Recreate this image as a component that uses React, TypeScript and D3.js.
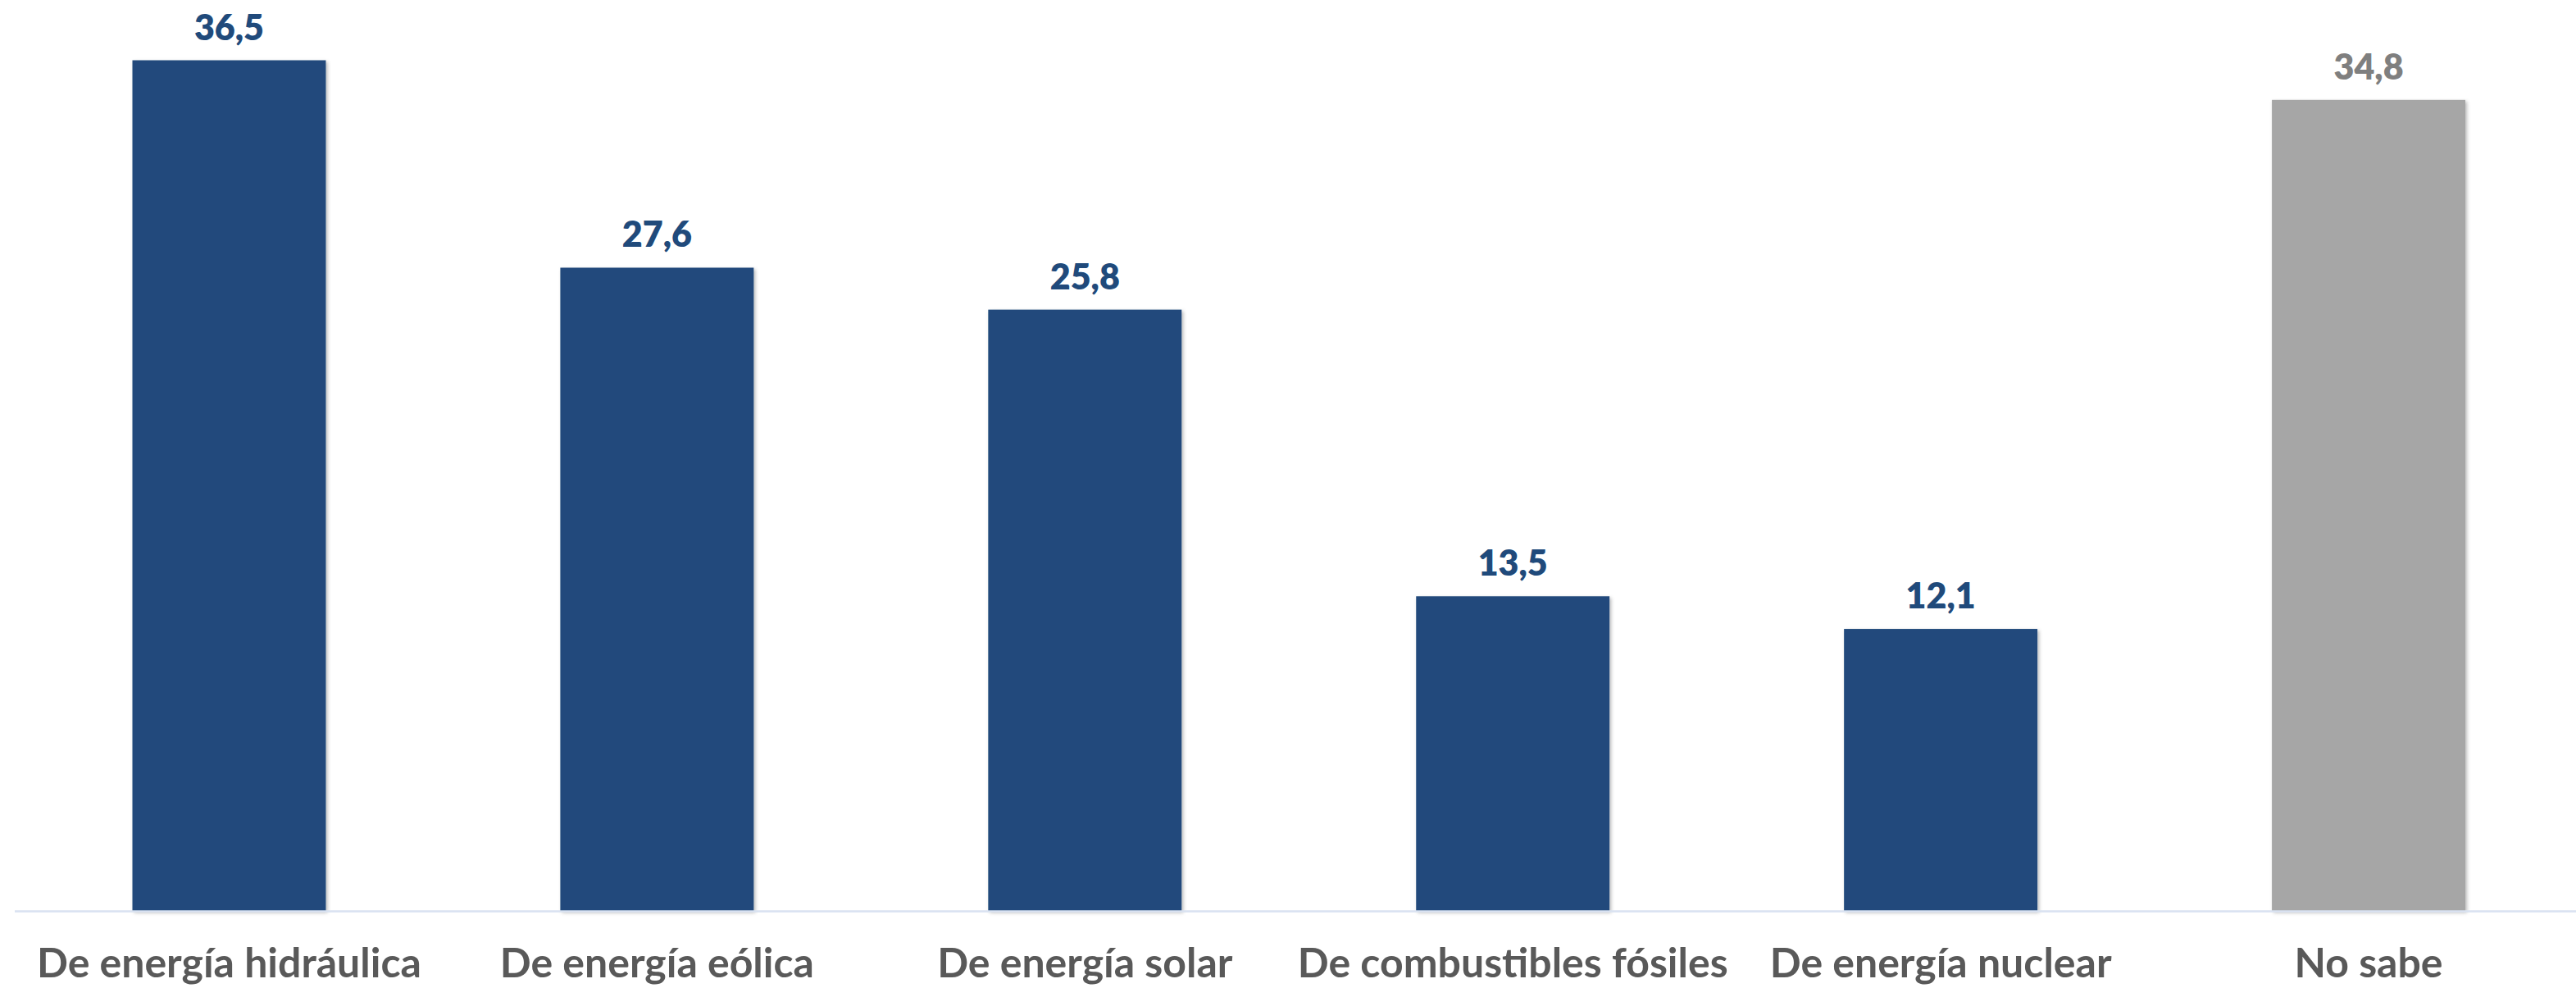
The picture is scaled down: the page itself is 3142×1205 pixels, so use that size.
import React, { useEffect } from "react";
import * as d3 from "d3";

const categories: string[] = [
  "De energía hidráulica",
  "De energía eólica",
  "De energía solar",
  "De combustibles fósiles",
  "De energía nuclear",
  "No sabe",
];
const values: number[] = [36.5, 27.6, 25.8, 13.5, 12.1, 34.8];
const highlight: boolean[] = [false, false, false, false, false, true];

const W = 3142;
const H = 1205;

export default function App() {
  useEffect(() => {
    document.body.style.margin = "0";
  }, []);

  const x = d3
    .scaleBand<string>()
    .domain(categories)
    .range([18.5, 3150])
    .paddingInner(0.548)
    .paddingOuter(0.274);
  const y = d3.scaleLinear().domain([0, 36.5]).range([1111, 73.5]);
  const fmt = (v: number) => d3.format(".1f")(v).replace(".", ",");
  const font = "Lato, 'Open Sans', sans-serif";

  return (
    <svg
      width={W}
      height={H}
      style={{ position: "absolute", left: 0, top: 0, background: "#ffffff" }}
    >
      <defs>
        <filter id="sh" x="-10%" y="-10%" width="120%" height="120%">
          <feDropShadow dx="2" dy="2" stdDeviation="2" floodColor="#000" floodOpacity="0.28" />
        </filter>
      </defs>
      <rect x={0} y={0} width={W} height={H} fill="#ffffff" />
      {categories.map((c, i) => (
        <rect
          key={c}
          x={x(c)}
          y={y(values[i])}
          width={x.bandwidth()}
          height={y(0) - y(values[i])}
          fill={highlight[i] ? "#a6a6a6" : "#204a7b"}
          filter="url(#sh)"
        />
      ))}
      <line x1={18} x2={W} y1={y(0) + 0.5} y2={y(0) + 0.5} stroke="#d9e2f1" strokeWidth={2.5} />
      {categories.map((c, i) => (
        <text
          key={"v" + c}
          x={(x(c) as number) + x.bandwidth() / 2}
          y={y(values[i]) - 25}
          textAnchor="middle"
          fontFamily={font}
          fontWeight={800}
          fontSize={43}
          fill={highlight[i] ? "#7f7f7f" : "#204a7b"}
        >
          {fmt(values[i])}
        </text>
      ))}
      {categories.map((c) => (
        <text
          key={"c" + c}
          x={(x(c) as number) + x.bandwidth() / 2}
          y={1192}
          textAnchor="middle"
          fontFamily={font}
          fontWeight={700}
          fontSize={50}
          fill="#595959"
        >
          {c}
        </text>
      ))}
    </svg>
  );
}
